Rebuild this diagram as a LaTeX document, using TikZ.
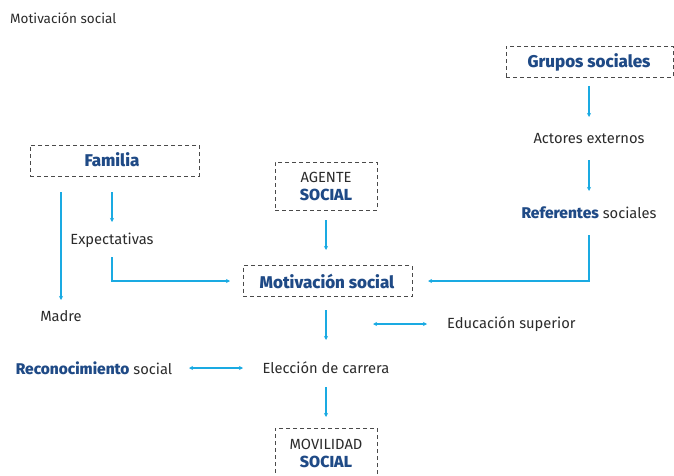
\documentclass[tikz,border=0pt]{standalone}
\usepackage{fontspec}
\setmainfont{Fira Sans}
\newfontfamily\hvy{Fira Sans ExtraBold}
\usetikzlibrary{arrows.meta}
\definecolor{dblue}{HTML}{1F4A86}
\definecolor{cyanl}{HTML}{1AAAE2}
\definecolor{txt}{HTML}{2B2B2B}
\definecolor{boxc}{HTML}{4A4A4A}
\tikzset{
  dbox/.style={draw=boxc, dash pattern=on 4pt off 3pt, line width=0.9pt, minimum height=31pt, inner sep=0pt},
  lbl/.style={text=txt, font=\fontsize{14.7}{16}\selectfont, inner sep=0pt},
  conn/.style={draw=cyanl, line width=1.2pt, -{Stealth[length=4pt,width=4pt]}},
  dconn/.style={draw=cyanl, line width=1.2pt, {Stealth[length=4pt,width=4pt]}-{Stealth[length=4pt,width=4pt]}},
  hb/.style={text=dblue, font=\fontsize{17}{18}\selectfont\hvy, inner sep=0pt}
}
\begin{document}
\begin{tikzpicture}[x=1pt,y=-1pt]
\useasboundingbox (0,0) rectangle (674,476);
\node[lbl, anchor=west, font=\fontsize{13.5}{14}\selectfont] (title) at (10,18) {Motivación social};
% boxes
\node[dbox, minimum width=167pt] (grupos) at (589.5,62) {};
\node[hb] (gruposT) at (589,62) {Grupos sociales};
\node[dbox, minimum width=169pt] (familia) at (114.5,160.5) {};
\node[hb] (familiaT) at (112,160) {Familia};
\node[dbox, minimum width=102pt, minimum height=48pt] (agente) at (326,186) {};
\node[lbl] (agente1) at (326,177) {AGENTE};
\node[hb, font=\fontsize{16}{17}\selectfont\hvy] (agente2) at (326,195) {SOCIAL};
\node[dbox, minimum width=169pt] (motiv) at (327.5,281) {};
\node[hb] (motivT) at (327,281) {Motivación social};
\node[dbox, minimum width=102pt, minimum height=56pt] (movil) at (326,456) {};
\node[lbl] (movil1) at (326,444) {MOVILIDAD};
\node[hb, font=\fontsize{16}{17}\selectfont\hvy] (movil2) at (326,462) {SOCIAL};
% labels
\node[lbl] (actores) at (589,139) {Actores externos};
\node[lbl] (refer) at (589,213) {{\color{dblue}\fontsize{15.5}{16}\selectfont\hvy Referentes} sociales};
\node[lbl] (expect) at (112,240) {Expectativas};
\node[lbl] (madre) at (61,316) {Madre};
\node[lbl, anchor=west] (educ) at (447,324) {Educación superior};
\node[lbl] (elec) at (326,368) {Elección de carrera};
\node[lbl] (recon) at (94,368) {{\color{dblue}\fontsize{15.5}{16}\selectfont\hvy Reconocimiento} social};
% coordinates
\coordinate (g1) at (589,86);
\coordinate (g2) at (589,117);
\coordinate (a1) at (589,160);
\coordinate (a2) at (589,191);
\coordinate (r1) at (589,235);
\coordinate (r2) at (589,281);
\coordinate (r3) at (428,281);
\coordinate (f1) at (61,192);
\coordinate (f2) at (61,300);
\coordinate (e1) at (112,192);
\coordinate (e2) at (112,222);
\coordinate (x1) at (112,257);
\coordinate (x2) at (112,281);
\coordinate (x3) at (230,281);
\coordinate (s1) at (326,220);
\coordinate (s2) at (326,250);
\coordinate (m1) at (326,310);
\coordinate (m2) at (326,340);
\coordinate (d1) at (373,324);
\coordinate (d2) at (427,324);
\coordinate (c1) at (189,368);
\coordinate (c2) at (243,368);
\coordinate (l1) at (326,387);
\coordinate (l2) at (326,417);
% connectors
\draw[conn] (g1) -- (g2);
\draw[conn] (a1) -- (a2);
\draw[conn] (r1) -- (r2) -- (r3);
\draw[conn] (f1) -- (f2);
\draw[conn] (e1) -- (e2);
\draw[conn] (x1) -- (x2) -- (x3);
\draw[conn] (s1) -- (s2);
\draw[conn] (m1) -- (m2);
\draw[dconn] (d1) -- (d2);
\draw[dconn] (c1) -- (c2);
\draw[conn] (l1) -- (l2);
\end{tikzpicture}
\end{document}
